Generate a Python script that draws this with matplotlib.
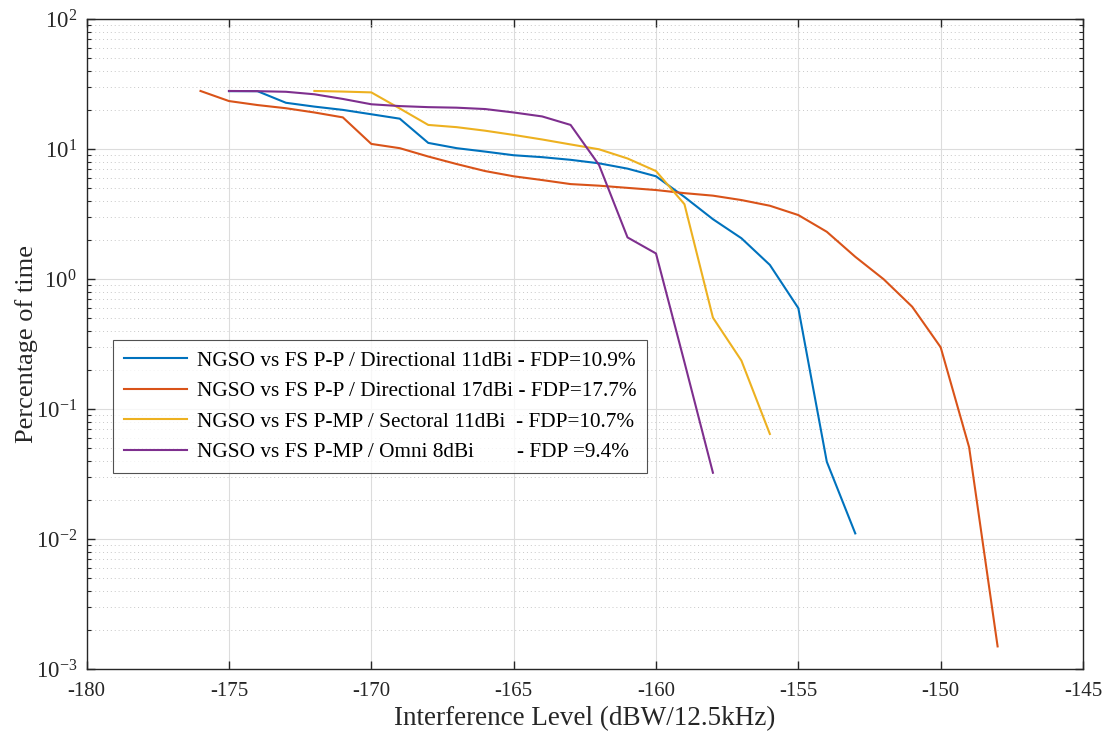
import numpy as np
import matplotlib as mpl
mpl.use('Agg')
import matplotlib.pyplot as plt
from matplotlib.ticker import LogLocator, NullFormatter, MultipleLocator

mpl.rcParams['font.family'] = ['Liberation Serif', 'DejaVu Serif']
mpl.rcParams['mathtext.fontset'] = 'custom'
mpl.rcParams['mathtext.rm'] = 'Liberation Serif'
mpl.rcParams['mathtext.it'] = 'Liberation Serif:italic'
mpl.rcParams['mathtext.bf'] = 'Liberation Serif:bold'
mpl.rcParams['axes.unicode_minus'] = False

# interference level (dBW/12.5kHz) and percentage of time
x_pp11 = [-175, -174, -173, -172, -171, -170, -169, -168, -167, -166, -165, -164,
          -163, -162, -161, -160, -159, -158, -157, -156, -155, -154, -153]
y_pp11 = [28.0, 28.0, 22.8, 21.3, 20.1, 18.6, 17.2, 11.2, 10.2, 9.6, 9.0, 8.7,
          8.3, 7.8, 7.1, 6.2, 4.3, 2.9, 2.07, 1.29, 0.60, 0.0395, 0.0111]

x_pp17 = [-176, -175, -174, -173, -172, -171, -170, -169, -168, -167, -166, -165,
          -164, -163, -162, -161, -160, -159, -158, -157, -156, -155, -154, -153,
          -152, -151, -150, -149, -148]
y_pp17 = [28.1, 23.5, 21.9, 20.7, 19.2, 17.6, 11.0, 10.2, 8.8, 7.7, 6.8, 6.2,
          5.8, 5.4, 5.25, 5.05, 4.86, 4.6, 4.4, 4.07, 3.68, 3.12, 2.32, 1.49,
          1.0, 0.615, 0.30, 0.051, 0.0015]

x_sect = [-172, -171, -170, -169, -168, -167, -166, -165, -164, -163, -162, -161,
          -160, -159, -158, -157, -156]
y_sect = [28.1, 27.8, 27.4, 20.6, 15.4, 14.8, 13.9, 12.9, 11.9, 10.9, 10.0, 8.5,
          6.8, 3.78, 0.507, 0.237, 0.0646]

x_omni = [-175, -174, -173, -172, -171, -170, -169, -168, -167, -166, -165, -164,
          -163, -162, -161, -160, -159, -158]
y_omni = [28.1, 28.0, 27.7, 26.5, 24.4, 22.2, 21.5, 21.1, 20.9, 20.4, 19.2, 17.9,
          15.4, 7.57, 2.1, 1.58, 0.23, 0.0325]

labels = ['NGSO vs FS P-P / Directional 11dBi - FDP=10.9%',
          'NGSO vs FS P-P / Directional 17dBi - FDP=17.7%',
          'NGSO vs FS P-MP / Sectoral 11dBi  - FDP=10.7%',
          'NGSO vs FS P-MP / Omni 8dBi        - FDP =9.4%']
colors = ['#0072BD', '#D95319', '#EDB120', '#7E2F8E']

fig = plt.figure(figsize=(11.05, 7.31), dpi=100)
ax = fig.add_axes([0.0784, 0.0844, 0.9017, 0.8892])

series = [(x_pp11, y_pp11), (x_pp17, y_pp17), (x_sect, y_sect), (x_omni, y_omni)]
for (xs, ys), lab, c in zip(series, labels, colors):
    ax.semilogy(xs, ys, color=c, lw=1.5, label=lab)

ax.set_xlim(-180, -145)
ax.set_ylim(1e-3, 1e2)
ax.xaxis.set_major_locator(MultipleLocator(5))
ax.yaxis.set_major_locator(LogLocator(base=10, numticks=10))
ax.yaxis.set_minor_locator(LogLocator(base=10, subs=np.arange(2, 10), numticks=20))
ax.yaxis.set_minor_formatter(NullFormatter())

ax.grid(True, which='major', color='#dcdcdc', lw=0.8, ls='-')
ax.grid(True, which='minor', axis='y', color='#c8c8c8', lw=0.7, ls=(0, (1, 3)))
ax.set_axisbelow(True)

ax.tick_params(which='both', direction='in', top=True, right=True,
               colors='#262626')
ax.tick_params(which='major', length=6, width=1)
ax.tick_params(which='minor', length=3, width=0.8)
ax.tick_params(axis='x', pad=9, labelsize=15)
ax.tick_params(axis='y', pad=7, labelsize=16.5)
for s in ax.spines.values():
    s.set_color('#262626')
    s.set_linewidth(1.0)

ax.set_xlabel('Interference Level (dBW/12.5kHz)', fontsize=19.5, color='#262626',
              labelpad=4)
ax.set_ylabel('Percentage of time', fontsize=19, color='#262626', labelpad=-2)

leg = ax.legend(loc='lower left', bbox_to_anchor=(0.0265, 0.302), fontsize=15.3,
                frameon=True, fancybox=False, edgecolor='#262626',
                handlelength=3.0, borderpad=0.5, labelspacing=0.5,
                handletextpad=0.45, borderaxespad=0)
leg.get_frame().set_linewidth(0.8)

fig.savefig('out.png', dpi=100, facecolor='white')
